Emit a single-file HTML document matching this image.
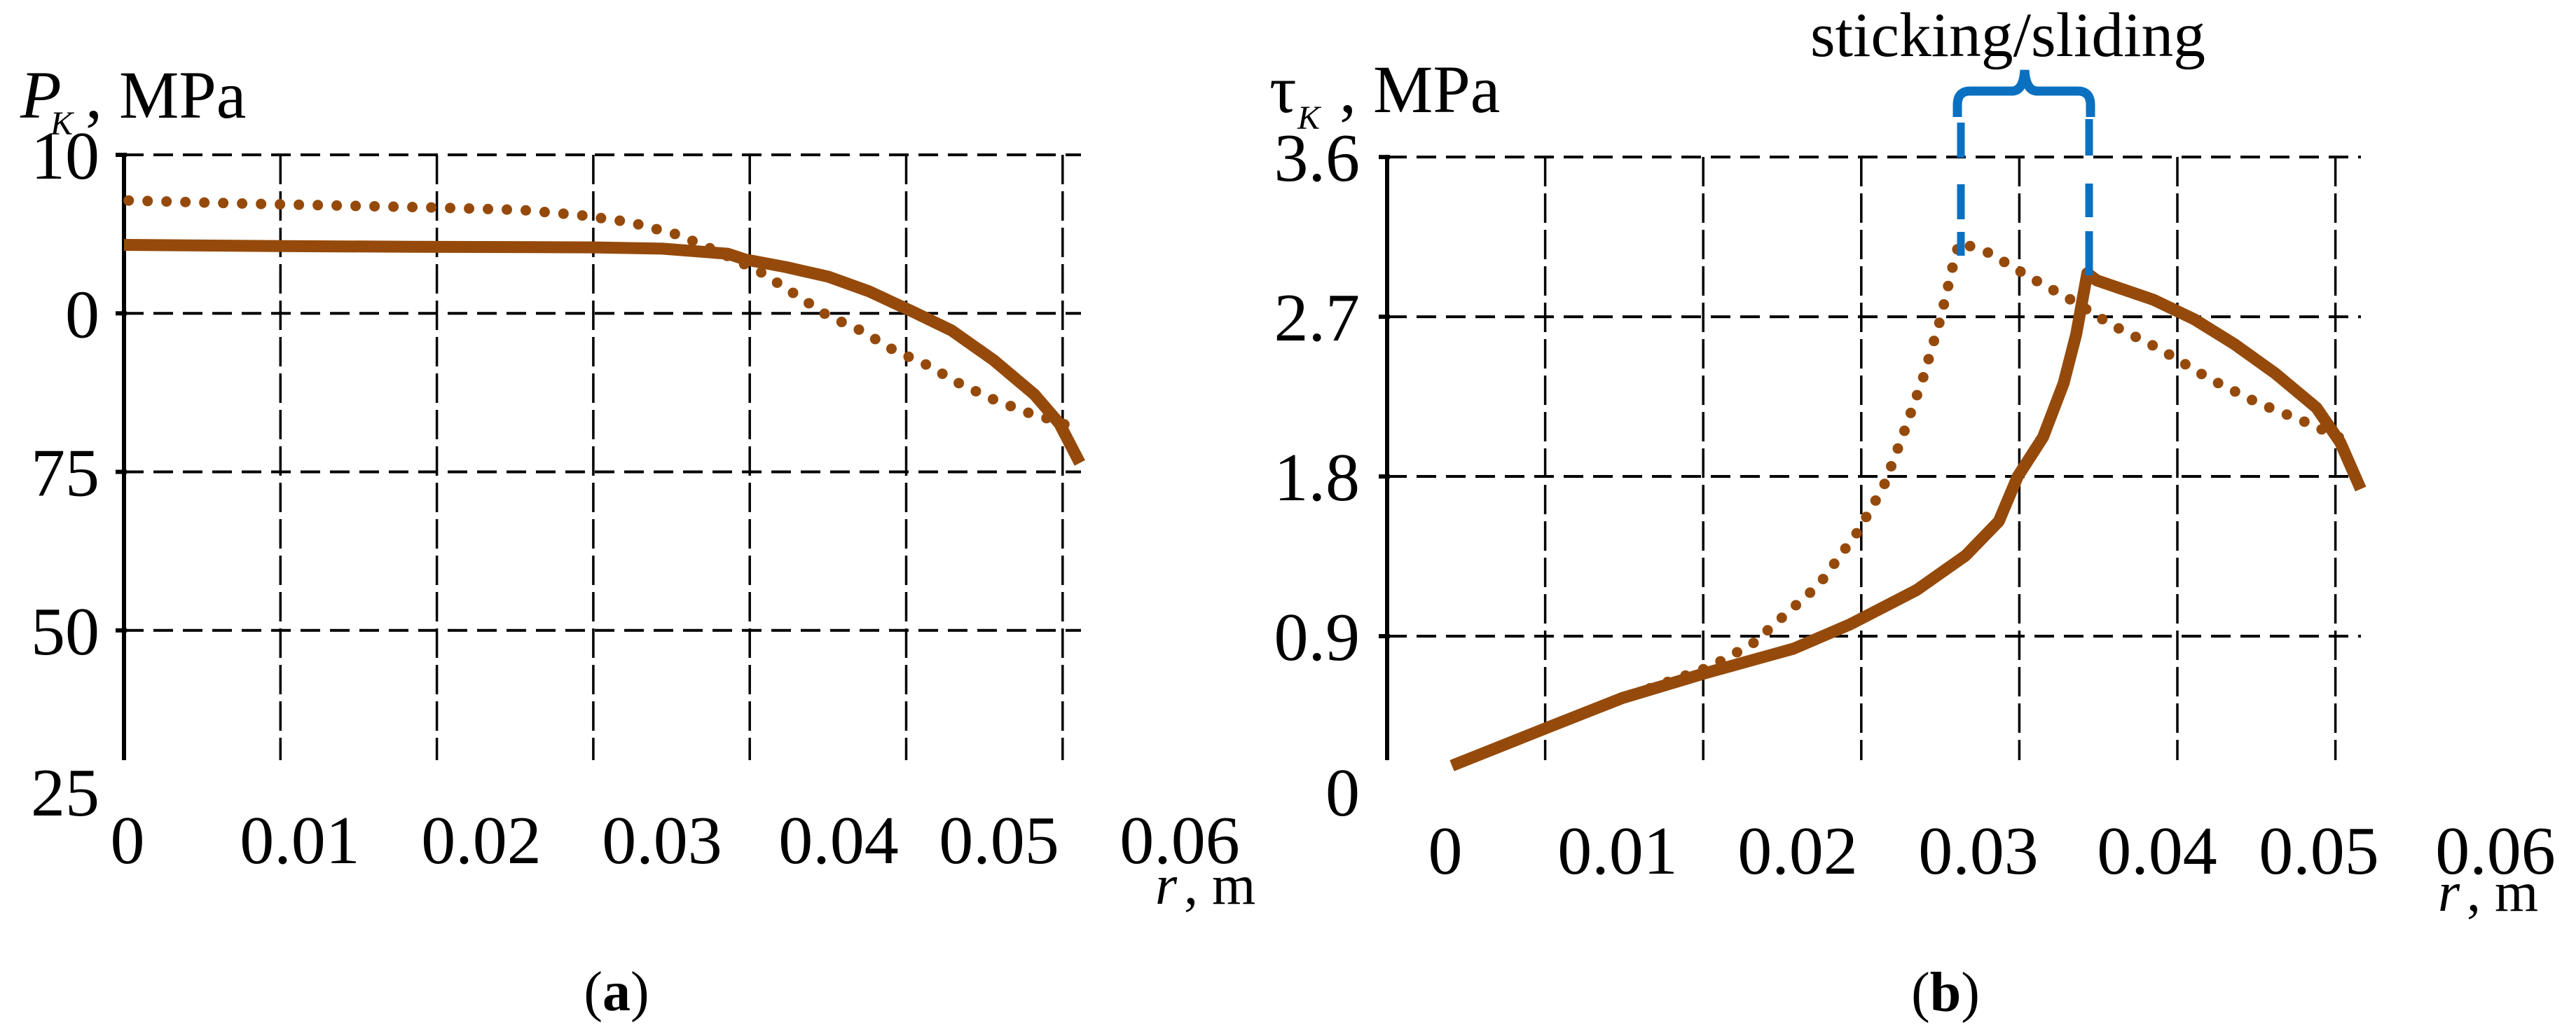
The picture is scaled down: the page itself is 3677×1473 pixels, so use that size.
<!DOCTYPE html>
<html><head><meta charset="utf-8">
<style>
html,body{margin:0;padding:0;background:#fff;}
svg{display:block;}
text{font-family:"Liberation Serif",serif;fill:#000;}
</style></head>
<body>
<svg id="fig" width="3677" height="1473" viewBox="0 0 3677 1473" xmlns="http://www.w3.org/2000/svg">
  <g id="chartA"></g>
  <g id="chartB"></g>
</svg>
<script>
// ---------- Chart (a) data ----------
const aTickValues = [125, 100, 75, 50, 25];
const aTickLabels = ["10", "0", "75", "50", "25"];
const aXTickLabels = ["0", "0.01", "0.02", "0.03", "0.04", "0.05", "0.06"];
const aSolidR = [0, 0.01, 0.0185, 0.03, 0.0344, 0.0386, 0.0397, 0.0423, 0.0450, 0.0476, 0.0503, 0.0529, 0.0556, 0.0582, 0.0598, 0.0611];
const aSolidP = [110.8, 110.6, 110.5, 110.4, 110.2, 109.4, 108.5, 107.3, 105.8, 103.5, 100.4, 97.3, 92.6, 87.2, 82.6, 76.4];
const aDotR = [0.0003, 0.0079, 0.0196, 0.0254, 0.0291, 0.0323, 0.0354, 0.0381, 0.0407, 0.0431, 0.0450, 0.0471, 0.0492, 0.0513, 0.0535, 0.0556, 0.0577, 0.0592, 0.0609];
const aDotP = [117.8, 117.3, 116.7, 116.3, 115.5, 114.4, 112.4, 109.6, 106.5, 102.7, 99.6, 97.3, 94.2, 91.9, 88.8, 86.4, 84.4, 83.3, 81.8];

// ---------- Chart (b) data ----------
const bTickValues = [3.6, 2.7, 1.8, 0.9, 0];
const bTickLabels = ["3.6", "2.7", "1.8", "0.9", "0"];
const bXTickLabels = ["0", "0.01", "0.02", "0.03", "0.04", "0.05", "0.06"];
const bSolidR = [0.0041, 0.0102, 0.0149, 0.0201, 0.0257, 0.0293, 0.0335, 0.0366, 0.0387, 0.0399, 0.0415, 0.0428, 0.0436, 0.0443, 0.0449, 0.0485, 0.0511, 0.0536, 0.0562, 0.0588, 0.0603, 0.0616];
const bSolidT = [0.17, 0.387, 0.552, 0.691, 0.829, 0.967, 1.160, 1.354, 1.547, 1.800, 2.021, 2.325, 2.601, 2.945, 2.905, 2.795, 2.684, 2.546, 2.380, 2.187, 1.993, 1.729];
const bDotR = [0.0155, 0.0205, 0.0231, 0.0273, 0.0298, 0.0314, 0.0327, 0.0339, 0.0350, 0.0358, 0.0362, 0.0381, 0.0407, 0.0433, 0.0458, 0.0489, 0.0520, 0.0551, 0.0582, 0.0613];
const bDotT = [0.57, 0.730, 0.856, 1.188, 1.492, 1.741, 2.049, 2.353, 2.684, 2.988, 3.12, 3.059, 2.921, 2.794, 2.656, 2.518, 2.352, 2.214, 2.103, 1.977];

const NS = "http://www.w3.org/2000/svg";
const BROWN = "#954a0b";
function el(tag, attrs, parent) {
  const e = document.createElementNS(NS, tag);
  for (const k in attrs) e.setAttribute(k, attrs[k]);
  parent.appendChild(e);
  return e;
}
function txt(parent, s, x, y, size, anchor, len, extra) {
  const t = el("text", Object.assign({x: x, y: y, "font-size": size, "text-anchor": anchor || "start"}, extra || {}), parent);
  if (len) { t.setAttribute("textLength", len); t.setAttribute("lengthAdjust", "spacingAndGlyphs"); }
  t.textContent = s;
  return t;
}

function drawChart(g, cfg) {
  // horizontal gridlines
  cfg.yTicks.forEach((v, i) => {
    const y = cfg.y(v);
    if (i < cfg.yTicks.length - 1) {
      const l = el("line", {x1: cfg.x0, x2: cfg.xEnd, y1: y, y2: y, stroke: "#000", "stroke-width": 4, "stroke-dasharray": "28 14"}, g);
      
      
      const tk = el("line", {x1: cfg.x0 - 12, x2: cfg.x0 + 4, y1: y, y2: y, stroke: "#000", "stroke-width": 6}, g);
      
      
    }
    const t = txt(g, cfg.yLabels[i], cfg.yLabelX, (i < cfg.yTicks.length - 1 ? y : cfg.lastLabelY) + 34, 98, "end");
    
    
  });
  // vertical gridlines
  for (let i = 1; i <= 6; i++) {
    const x = cfg.x(i * 0.01);
    const l = el("line", {x1: x, x2: x, y1: cfg.yTop, y2: cfg.yBottom, stroke: "#000", "stroke-width": 3.5, "stroke-dasharray": "42 10"}, g);
    
    
  }
  // axis
  const ax = el("line", {x1: cfg.x0, x2: cfg.x0, y1: cfg.yTop - 3, y2: cfg.yBottom, stroke: "#000", "stroke-width": 6}, g);
  
  
  // x labels
  cfg.xLabels.forEach((s, i) => {
    const t = txt(g, s, cfg.xLabelX[i], cfg.xLabelY, 98, "middle");
    
    
  });
  // series
  const pts = (R, V) => R.map((r, i) => cfg.x(r).toFixed(1) + "," + cfg.y(V[i]).toFixed(1)).join(" ");
  const solid = el("polyline", {points: pts(cfg.solidR, cfg.solidV), fill: "none", stroke: BROWN, "stroke-width": 17, "stroke-linejoin": "round", "stroke-linecap": "butt"}, g);
  
  
  const dots = el("polyline", {points: pts(cfg.dotR, cfg.dotV), fill: "none", stroke: BROWN, "stroke-width": 15, "stroke-linecap": "round", "stroke-dasharray": "0 " + cfg.dotGap}, g);
  
  
}

// ----- chart a -----
const gA = document.getElementById("chartA");
const xA = r => 177 + r * 22330;
const yA = v => 1126 - (v - 25) * (226.25 / 25);
drawChart(gA, {
  x: xA, y: yA, x0: 177, xEnd: 1543, yTop: 221, yBottom: 1085,
  yTicks: aTickValues, yLabels: aTickLabels, yLabelX: 142, lastLabelY: 1130,
  xLabels: aXTickLabels, xLabelX: [182, 428, 687, 945, 1197, 1426, 1684], xLabelY: 1232,
  solidR: aSolidR, solidV: aSolidP, dotR: aDotR, dotV: aDotP, dotGap: 27
});
// ----- chart b -----
const gB = document.getElementById("chartB");
const xB = r => 1980 + r * 22560;
const yB = v => 1136 - v * 253.3;
drawChart(gB, {
  x: xB, y: yB, x0: 1980, xEnd: 3370, yTop: 224, yBottom: 1085,
  yTicks: bTickValues, yLabels: bTickLabels, yLabelX: 1941, lastLabelY: 1130,
  xLabels: bXTickLabels, xLabelX: [2063, 2309, 2566, 2824, 3079, 3310, 3562], xLabelY: 1247,
  solidR: bSolidR, solidV: bSolidT, dotR: bDotR, dotV: bDotT, dotGap: 27
});
</script>

<svg style="position:absolute;left:0;top:0" width="3677" height="1473" viewBox="0 0 3677 1473" xmlns="http://www.w3.org/2000/svg">
  <!-- axis titles a -->
  <g>
    <text x="29" y="168" font-size="96" font-style="italic" style="font-family:'Liberation Serif',serif">P</text>
    <text x="72" y="192" font-size="48" font-style="italic" fill="#666" style="font-family:'Liberation Serif',serif">K</text>
    <text x="122" y="168" font-size="96" style="font-family:'Liberation Serif',serif">, MPa</text>
  </g>
  <g>
    <text x="1649" y="1290" font-size="80" font-style="italic" style="font-family:'Liberation Serif',serif">r</text>
    <text x="1690" y="1290" font-size="80" style="font-family:'Liberation Serif',serif">, m</text>
  </g>
  <text x="880" y="1442" font-size="80" text-anchor="middle" style="font-family:'Liberation Serif',serif">(<tspan font-weight="bold">a</tspan>)</text>

  <!-- axis titles b -->
  <g>
    <text x="1812" y="160" font-size="96" style="font-family:'Liberation Serif','DejaVu Serif',serif">τ</text>
    <text x="1852" y="184" font-size="48" font-style="italic" fill="#666" style="font-family:'Liberation Serif',serif">K</text>
    <text x="1912" y="160" font-size="96" style="font-family:'Liberation Serif',serif">, MPa</text>
  </g>
  <g>
    <text x="3480" y="1300" font-size="80" font-style="italic" style="font-family:'Liberation Serif',serif">r</text>
    <text x="3521" y="1300" font-size="80" style="font-family:'Liberation Serif',serif">, m</text>
  </g>
  <text x="2777" y="1443" font-size="80" text-anchor="middle" style="font-family:'Liberation Serif',serif">(<tspan font-weight="bold">b</tspan>)</text>

  <!-- sticking / sliding annotation -->
  <text x="2584" y="80" font-size="90" textLength="564" lengthAdjust="spacingAndGlyphs" style="font-family:'Liberation Serif',serif">sticking/sliding</text>
  <path d="M2794,167 L2794,150 Q2794,130 2812,130 L2872,130 Q2888,130 2890,100 Q2892,130 2908,130 L2966,130 Q2984,130 2984,150 L2984,167" fill="none" stroke="#0b70c0" stroke-width="13"/>
  <line x1="2799" y1="175" x2="2799" y2="365" stroke="#0b70c0" stroke-width="11" stroke-dasharray="50 38 50 18 36 100"/>
  <line x1="2982" y1="170" x2="2982" y2="393" stroke="#0b70c0" stroke-width="11" stroke-dasharray="52 40 48 20 64 100"/>
</svg>
</body></html>
